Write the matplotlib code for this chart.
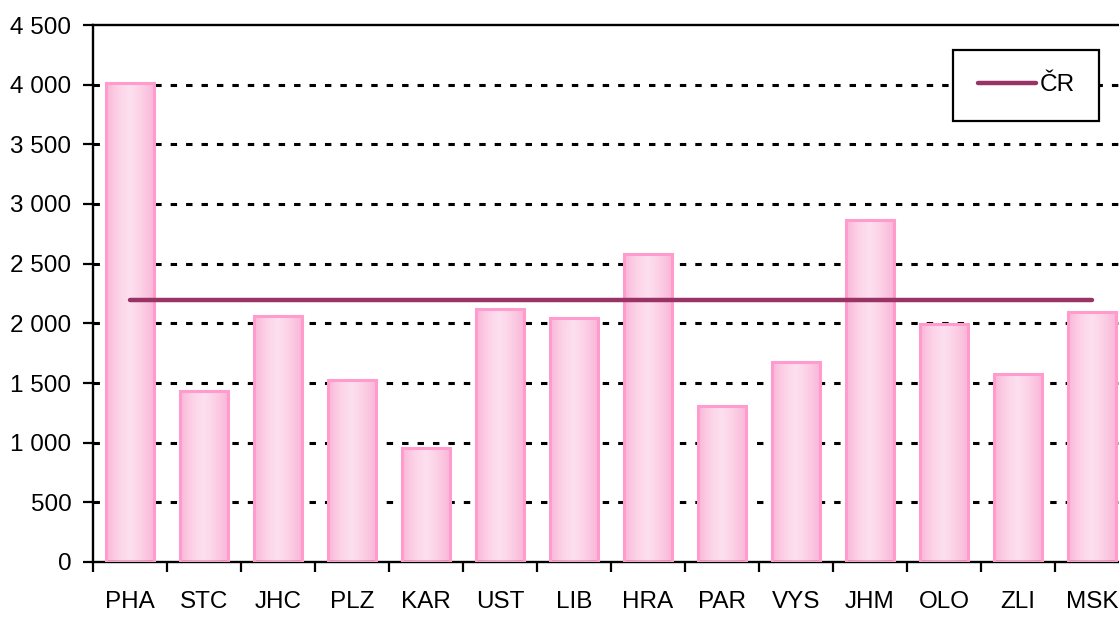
import numpy as np
import matplotlib

matplotlib.use("Agg")
import matplotlib.pyplot as plt
from matplotlib.colors import LinearSegmentedColormap

plt.rcParams["font.family"] = ["Liberation Sans", "DejaVu Sans"]

regions = ["PHA", "STC", "JHC", "PLZ", "KAR", "UST", "LIB",
           "HRA", "PAR", "VYS", "JHM", "OLO", "ZLI", "MSK"]
values = [4010, 1435, 2060, 1525, 955, 2120, 2045,
          2580, 1305, 1675, 2865, 1995, 1575, 2095]
cr_value = 2195
yticks = [0, 500, 1000, 1500, 2000, 2500, 3000, 3500, 4000, 4500]

BAR_EDGE = "#ff9ccd"
CR_COLOR = "#993366"
grad = LinearSegmentedColormap.from_list(
    "pinkbar", ["#fab6d9", "#fcd2e7", "#fde0ef", "#fccfe5", "#fab6d9"])

fig = plt.figure(figsize=(11.19, 6.17), dpi=100)
ax = fig.add_axes([93 / 1119, 1 - 562 / 617, 1036 / 1119, 537 / 617])

x = np.arange(len(regions))
width = 0.64
gradient = np.linspace(0, 1, 256).reshape(1, -1)
for xi, v in zip(x, values):
    ax.imshow(gradient, cmap=grad, extent=[xi - width / 2, xi + width / 2, 0, v],
              aspect="auto", zorder=2, interpolation="bilinear")
ax.bar(x, values, width=width, color="none", edgecolor=BAR_EDGE,
       linewidth=2.2, zorder=3)

ax.plot([x[0], x[-1]], [cr_value, cr_value], color=CR_COLOR, lw=3.2,
        solid_capstyle="round", zorder=4, label="ČR")

ax.set_xlim(-0.5, len(regions) - 0.5)
ax.set_ylim(0, 4500)

# dotted gridlines like the old spreadsheet chart
for t in yticks[1:-1]:
    ax.axhline(t, color="black", lw=2.2, dashes=(2.1, 2.95), zorder=1)

ax.set_yticks(yticks)
ax.set_yticklabels([f"{t:,}".replace(",", " ") for t in yticks])
ax.set_xticks(np.arange(-0.5, len(regions), 1.0))
ax.set_xticklabels([])
ax.set_xticks(x, minor=True)
ax.set_xticklabels(regions, minor=True)
ax.tick_params(axis="y", which="major", direction="out", length=7.5, width=1.6,
               labelsize=17.5, pad=8)
ax.tick_params(axis="x", which="major", direction="out", length=7, width=1.6)
ax.tick_params(axis="x", which="minor", length=0, labelsize=17.5, pad=21)

for side in ["left", "bottom", "top"]:
    ax.spines[side].set_color("black")
    ax.spines[side].set_linewidth(1.7)
ax.spines["right"].set_visible(False)

leg = ax.legend(loc="upper right", bbox_to_anchor=(1099 / 1119, 1 - 50 / 617),
                bbox_transform=fig.transFigure, borderaxespad=0, fontsize=17.5,
                fancybox=False, frameon=True, handlelength=2.4,
                handletextpad=0.15, borderpad=1.0)
leg.get_frame().set_edgecolor("black")
leg.get_frame().set_linewidth(1.6)
leg.get_frame().set_alpha(1)

fig.savefig("out.png", dpi=100, facecolor="white")
